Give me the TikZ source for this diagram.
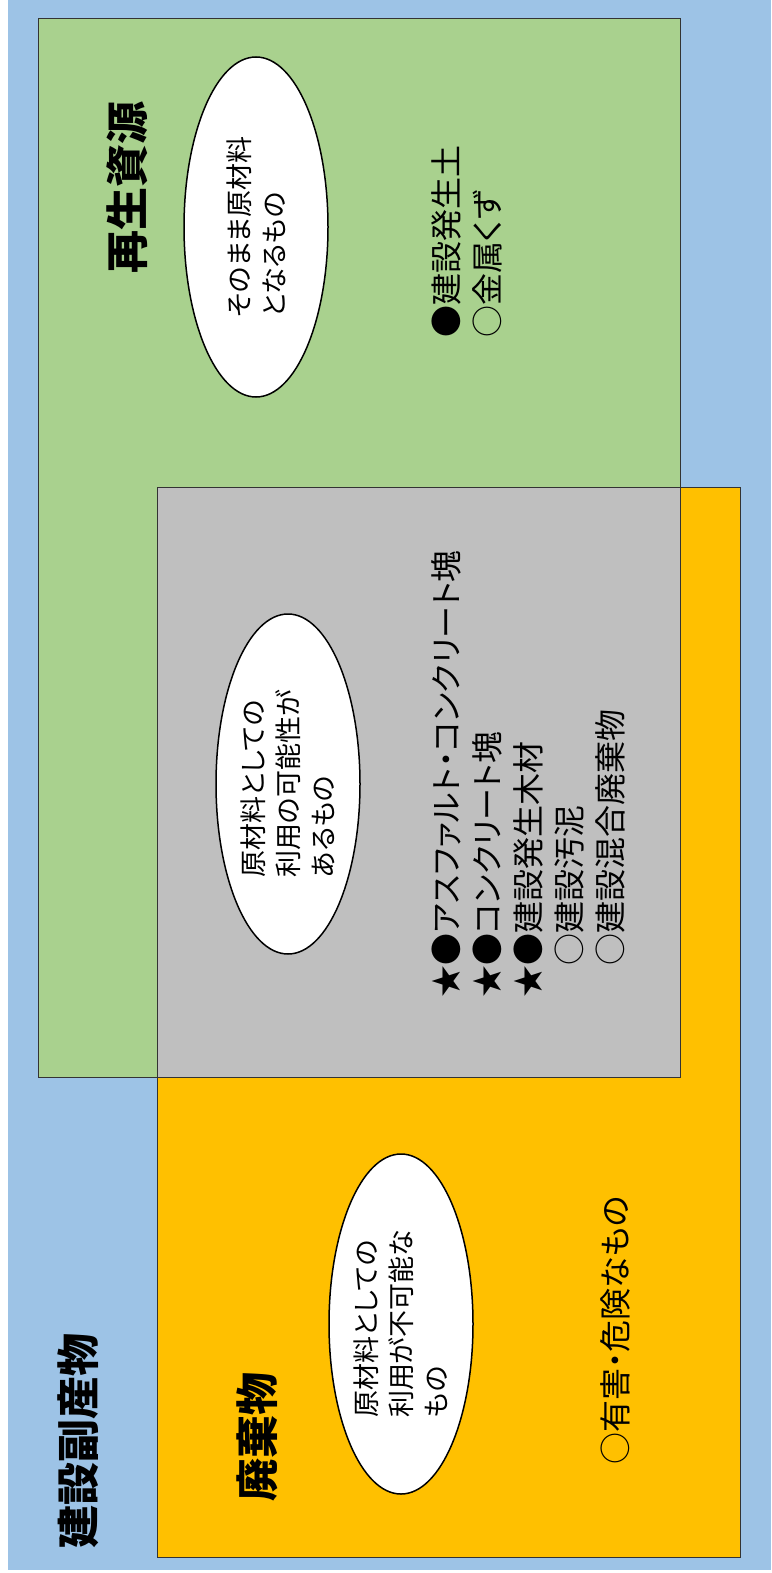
\documentclass[tikz,border=0pt]{standalone}
\usepackage{fontspec}
\setmainfont{Noto Sans CJK JP}[RawFeature=+palt]
\usetikzlibrary{shapes}
\definecolor{bgblue}{HTML}{9DC3E6}
\definecolor{resgreen}{HTML}{A9D18E}
\definecolor{wasteorange}{HTML}{FFC000}
\definecolor{bothgray}{HTML}{BFBFBF}
\tikzset{
        region/.style={draw=black!80, line width=0.8pt},
        % Bold headings
        node_title/.style={rotate=90, inner sep=0pt, font=\fontsize{43}{50}\selectfont\bfseries},
        % White bubbles with a description
        node_bubble/.style={ellipse, rotate=90, draw=black, line width=1.5pt, fill=white, inner sep=0pt,
                minimum width=340pt, minimum height=144pt, align=left, font=\fontsize{27}{35}\selectfont},
        % Item lists
        node_list/.style={rotate=90, anchor=west, inner sep=0pt, align=left, font=\fontsize{32}{41}\selectfont}
}
\begin{document}
\begin{tikzpicture}[x=1pt, y=-1pt]
            \useasboundingbox (0,0) rectangle (771,1573);
            \fill[white] (0,0) rectangle (771,1573);
            \fill[bgblue] (8,0) rectangle (771,1570);
            % Regions
            \fill[resgreen] (38,18) rectangle (680,1077);
            \fill[wasteorange] (157,487) rectangle (740,1557);
            \fill[bothgray] (157,487) rectangle (680,1077);
            \draw[region] (38,18) rectangle (680,1077);
            \draw[region] (157,487) rectangle (740,1557);
            % Headings
            \node[node_title] (saisei) at (127,187) {再生資源};
            \node[node_title] (haiki) at (257,1437) {廃棄物};
            \node[node_title] (fukusan) at (78,1441) {建設副産物};
            % Bubbles
            \node[node_bubble] (bubble_saisei) at (256,227) {そのまま原材料\\となるもの};
            \node[node_bubble] (bubble_both) at (288,784) {原材料としての\\利用の可能性が\\あるもの};
            \node[node_bubble] (bubble_haiki) at (401,1324) {原材料としての\\利用が不可能な\\もの};
            % Lists
            \node[node_list] (list_saisei) at (467,338) {●建設発生土\\○金属くず};
            \node[node_list] (list_both) at (528,998) {★●アスファルト・コンクリート塊\\★●コンクリート塊\\★●建設発生木材\\\phantom{★}○建設汚泥\\\phantom{★}○建設混合廃棄物};
            \node[node_list] (list_haiki) at (615,1465) {○有害・危険なもの};
\end{tikzpicture}
\end{document}
